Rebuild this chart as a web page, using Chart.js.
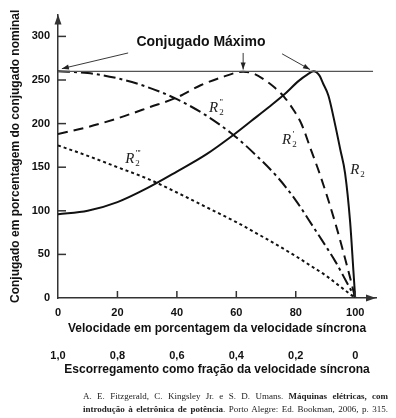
<!DOCTYPE html>
<html>
<head>
<meta charset="utf-8">
<script src="https://cdn.jsdelivr.net/npm/chart.js@4.4.1/dist/chart.umd.min.js"></script>
<style>
  html, body { margin: 0; padding: 0; background: #fff; }
  #wrap { position: relative; width: 396px; height: 418px; }
  .cap { position: absolute; left: 83px; width: 305px; font: 9px "Liberation Serif", serif; color: #222;
         text-align: justify; text-align-last: justify; line-height: 12px; }
</style>
</head>
<body>
<div id="wrap">
  <canvas id="torque"></canvas>
  <div class="cap" style="top:390px">A. E. Fitzgerald, C. Kingsley Jr. e S. D. Umans. <b>Máquinas elétricas, com</b></div>
  <div class="cap" style="top:403px"><b>introdução à eletrônica de potência</b>. Porto Alegre: Ed. Bookman, 2006, p. 315.</div>
</div>
<script>
const speedTicks = [0, 20, 40, 60, 80, 100];              // velocidade em %
const slipLabels = ["1,0", "0,8", "0,6", "0,4", "0,2", "0"]; // escorregamento
const torqueTicks = [0, 50, 100, 150, 200, 250, 300];
const maxTorque = 260;

// R2 (solid)
const r2Speed  = [0, 10, 20, 30, 40, 50, 59, 65, 71, 76, 81, 84, 86, 88, 89.2, 91, 93.3, 95, 96.6, 98.3, 99.4, 100];
const r2Torque = [96, 100, 110, 126, 145, 165, 187, 203, 219, 233, 249, 256.5, 260, 255, 246, 232, 198, 170, 143, 87, 31, 0];
// R2' (dashed)
const r2aSpeed  = [0, 10, 20, 31, 40, 48, 55, 62.3, 66, 70, 73, 76, 79, 82, 85, 88.2, 93.3, 97.7, 100];
const r2aTorque = [188, 196, 206, 219, 230, 244, 253, 259.5, 257, 249, 241, 231, 217, 199, 171, 141, 86, 31, 0];
// R2'' (dash-dot)
const r2bSpeed  = [0, 10, 20, 30, 40, 50, 59, 65, 74, 80, 86, 90, 93.3, 97, 100];
const r2bTorque = [260, 258, 252, 242, 228, 209, 187, 169, 138, 112, 81, 60, 42, 19, 0];
// R2''' (dotted)
const r2cSpeed  = [0, 10, 20, 30, 40, 50, 60, 70, 80, 85, 90, 95, 100];
const r2cTorque = [175, 163, 150, 137, 121, 104, 87, 68, 48, 37, 26, 13, 0];

const pts = (xs, ys) => xs.map((v, i) => ({ x: v, y: ys[i] }));

const ink = "#111";
const tickFont = { family: "Liberation Sans", size: 11, weight: "bold" };
const titleFont = { family: "Liberation Sans", size: 12, weight: "bold" };

function curve(label, data, dash) {
  return {
    label: label, data: data, borderColor: ink, borderWidth: 2, borderDash: dash,
    pointRadius: 0, fill: false, cubicInterpolationMode: "monotone"
  };
}

function arrowHead(ctx, x, y, ang, len, half) {
  ctx.beginPath();
  ctx.moveTo(x, y);
  ctx.lineTo(x - len * Math.cos(ang) + half * Math.sin(ang), y - len * Math.sin(ang) - half * Math.cos(ang));
  ctx.lineTo(x - len * Math.cos(ang) - half * Math.sin(ang), y - len * Math.sin(ang) + half * Math.cos(ang));
  ctx.closePath();
  ctx.fill();
}

// curve labels: [primes, speed, torque]
const curveLabels = [["", 101, 148], ["'", 78.1, 182], ["''", 53.5, 219], ["'''", 25.3, 160]];
// pointer arrows for max torque: [fromX, fromY, toX, toY]
const pointers = [[23.6, 281, 1.3, 263], [62.3, 281, 62.3, 262], [75.4, 280, 84.8, 262]];

const decorations = {
  id: "decorations",
  afterDraw(chart) {
    const { ctx, chartArea: a, scales: { x, y } } = chart;
    ctx.save();
    ctx.strokeStyle = "#333";
    ctx.fillStyle = "#333";
    ctx.lineWidth = 1.5;
    // inward tick marks
    torqueTicks.forEach(v => {
      if (v === 0) return;
      const py = y.getPixelForValue(v);
      ctx.beginPath(); ctx.moveTo(a.left, py); ctx.lineTo(a.left + 8, py); ctx.stroke();
    });
    speedTicks.forEach(v => {
      if (v === 0) return;
      const px = x.getPixelForValue(v);
      ctx.beginPath(); ctx.moveTo(px, a.bottom); ctx.lineTo(px, a.bottom - 7); ctx.stroke();
    });
    // axis arrows
    arrowHead(ctx, a.left, a.top, -Math.PI / 2, 10, 3.5);
    arrowHead(ctx, a.right, a.bottom, 0, 10, 3.5);

    // max torque title + pointers
    ctx.fillStyle = ink;
    ctx.font = "bold 14px 'Liberation Sans'";
    ctx.textAlign = "center";
    ctx.textBaseline = "middle";
    ctx.fillText("Conjugado Máximo", x.getPixelForValue(48.1), y.getPixelForValue(293));
    ctx.strokeStyle = "#222";
    ctx.fillStyle = "#222";
    ctx.lineWidth = 0.9;
    pointers.forEach(p => {
      const x0 = x.getPixelForValue(p[0]), y0 = y.getPixelForValue(p[1]);
      const x1 = x.getPixelForValue(p[2]), y1 = y.getPixelForValue(p[3]);
      ctx.beginPath(); ctx.moveTo(x0, y0); ctx.lineTo(x1, y1); ctx.stroke();
      arrowHead(ctx, x1, y1, Math.atan2(y1 - y0, x1 - x0), 7, 2.5);
    });

    // R2 labels
    ctx.fillStyle = "#222";
    curveLabels.forEach(l => {
      const px = x.getPixelForValue(l[1]), py = y.getPixelForValue(l[2]);
      ctx.textAlign = "left";
      ctx.textBaseline = "alphabetic";
      ctx.font = "italic 15px 'Liberation Serif'";
      ctx.fillText("R", px - 8, py + 5);
      const w = ctx.measureText("R").width;
      ctx.font = "9px 'Liberation Serif'";
      ctx.fillText("2", px - 8 + w + 1, py + 8);
      if (l[0]) {
        ctx.font = "9px 'Liberation Serif'";
        ctx.fillText(l[0], px - 8 + w + 1.5, py - 2);
      }
    });
    ctx.restore();
  }
};

new Chart("torque", {
  type: "line",
  data: {
    datasets: [
      { label: "Conjugado máximo", data: [{ x: 0, y: maxTorque }, { x: 106, y: maxTorque }],
        borderColor: "#555", borderWidth: 1.2, pointRadius: 0, fill: false },
      curve("R2", pts(r2Speed, r2Torque), []),
      curve("R2'", pts(r2aSpeed, r2aTorque), [10, 6]),
      curve("R2''", pts(r2bSpeed, r2bTorque), [12, 4, 3, 4]),
      curve("R2'''", pts(r2cSpeed, r2cTorque), [3, 3])
    ]
  },
  options: {
    responsive: true,
    maintainAspectRatio: false,
    animation: false,
    devicePixelRatio: 1,
    layout: { padding: { left: 0, top: 7, right: 20, bottom: 41 } },
    plugins: { legend: { display: false }, tooltip: { enabled: false } },
    scales: {
      x: {
        type: "linear", min: 0, max: 107, weight: 0,
        afterBuildTicks: s => { s.ticks = speedTicks.map(v => ({ value: v })); },
        afterFit: s => { s.height = 44; },
        grid: { display: false, drawTicks: false },
        border: { display: true, color: "#333", width: 1.5 },
        ticks: { font: tickFont, color: ink, padding: 8, maxRotation: 0, autoSkip: false },
        title: { display: true, text: "Velocidade em porcentagem da velocidade síncrona",
                 font: titleFont, color: ink, padding: { top: 0, bottom: 6 } }
      },
      slip: {
        type: "linear", position: "bottom", min: 0, max: 107, weight: 1,
        afterBuildTicks: s => { s.ticks = speedTicks.map(v => ({ value: v })); },
        afterFit: s => { s.height = 35; },
        grid: { display: false, drawTicks: false },
        border: { display: false },
        ticks: { font: tickFont, color: ink, padding: 7, maxRotation: 0, autoSkip: false,
                 callback: (v, i) => slipLabels[i] },
        title: { display: true, text: "Escorregamento como fração da velocidade síncrona",
                 font: titleFont, color: ink, padding: { top: 0, bottom: 0 } }
      },
      y: {
        type: "linear", min: 0, max: 325,
        afterBuildTicks: s => { s.ticks = torqueTicks.map(v => ({ value: v })); },
        afterFit: s => { s.width = 58; },
        grid: { display: false, drawTicks: false },
        border: { display: true, color: "#333", width: 1.5 },
        ticks: { font: tickFont, color: ink, padding: 8 },
        title: { display: true, text: "Conjugado em porcentagem do conjugado nominal",
                 font: titleFont, color: ink, padding: { top: 8, bottom: 0 } }
      }
    }
  },
  plugins: [decorations]
});
</script>
</body>
</html>
